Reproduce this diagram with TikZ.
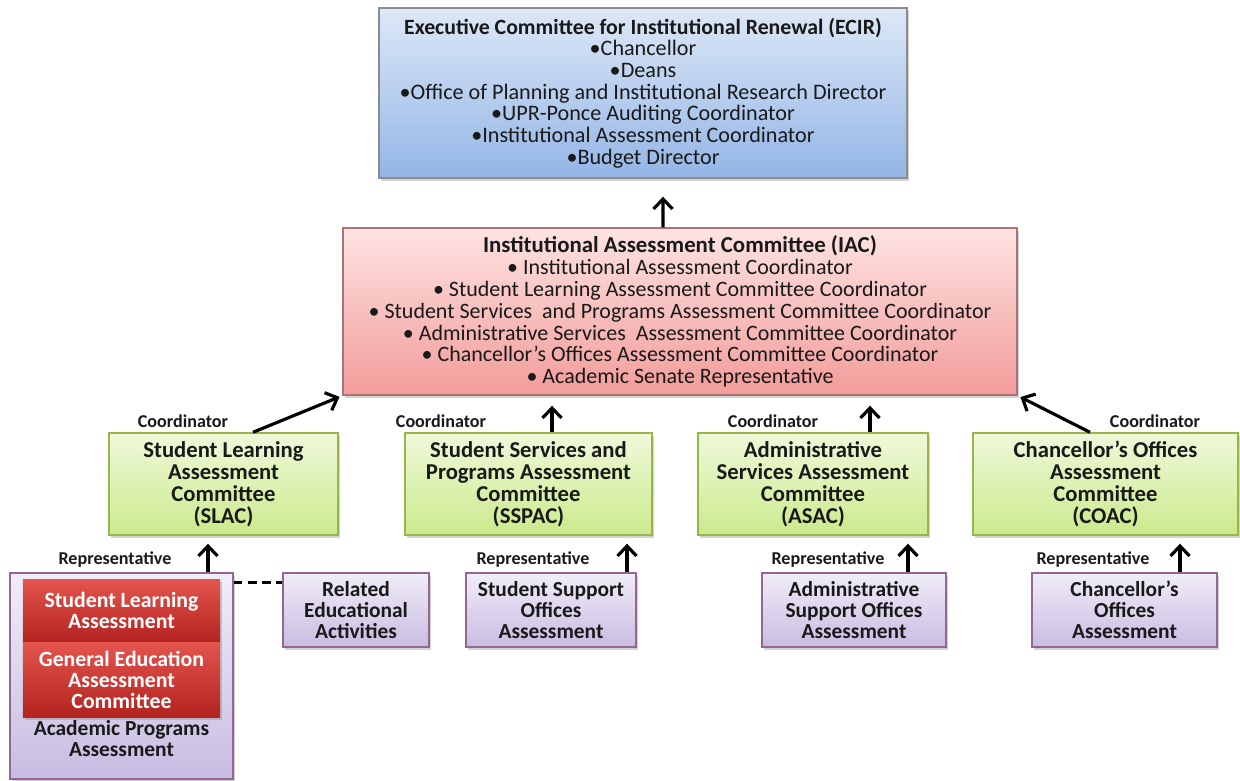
\documentclass[tikz,border=0pt]{standalone}
\usepackage{fontspec}
\setmainfont{Carlito}
\usetikzlibrary{arrows.meta,shadows}
\definecolor{ecirtop}{HTML}{DDE8F7}
\definecolor{ecirbot}{HTML}{93B5E6}
\definecolor{iactop}{HTML}{FDE3E2}
\definecolor{iacbot}{HTML}{F29C9A}
\definecolor{grntop}{HTML}{EFF9DA}
\definecolor{grnbot}{HTML}{CBEA8C}
\definecolor{purtop}{HTML}{F1EDF8}
\definecolor{purbot}{HTML}{C8BCE2}
\definecolor{redtop}{HTML}{E5554F}
\definecolor{redbot}{HTML}{B3231F}
\newcommand{\ecirhead}{\fontsize{12.4}{12.3}\selectfont\bfseries}
\newcommand{\iachead}{\fontsize{13}{12.4}\selectfont\bfseries}
\tikzstyle{box} = [rectangle, align=center, inner sep=1pt, text=black!90, drop shadow={shadow xshift=1.2pt, shadow yshift=-1.5pt, opacity=0.35}]
\tikzstyle{topbox} = [box, draw=black!45, line width=0.8pt, shading=axis, top color=ecirtop, bottom color=ecirbot, minimum width=10.56cm, minimum height=3.4cm, font=\fontsize{12.6}{12.3}\selectfont]
\tikzstyle{iacbox} = [box, draw=red!40!black!55, line width=0.8pt, shading=axis, top color=iactop, bottom color=iacbot, minimum width=13.48cm, minimum height=3.34cm, font=\fontsize{12.5}{12.4}\selectfont]
\tikzstyle{comm} = [box, draw=olive!60!green!70, line width=0.8pt, shading=axis, top color=grntop, bottom color=grnbot, minimum height=2.04cm, font=\fontsize{12.9}{12.5}\selectfont\bfseries]
\tikzstyle{unit} = [box, draw=violet!60!black!60, line width=0.8pt, shading=axis, top color=purtop, bottom color=purbot, minimum height=1.48cm, font=\fontsize{12.2}{12}\selectfont\bfseries]
\tikzstyle{redbox} = [box, shading=axis, top color=redtop, bottom color=redbot, minimum width=3.94cm, text=white, font=\fontsize{12.4}{12}\selectfont\bfseries]
\tikzstyle{tag} = [font=\fontsize{10.3}{11}\selectfont\bfseries, text=black!90]
\tikzstyle{up} = [-{Straight Barb[length=2mm,width=3.8mm]}, line width=1.8pt]

\begin{document}
\begin{tikzpicture}
        \useasboundingbox (0,0) rectangle (24.8,-15.62);
        \node (ecir) [topbox] at (12.86,-1.86) {{\ecirhead Executive Committee for Institutional Renewal (ECIR)}\\ •Chancellor\\ •Deans\\ •Office of Planning and Institutional Research Director\\ •UPR-Ponce Auditing Coordinator\\ •Institutional Assessment Coordinator\\ •Budget Director};
        \node (iac) [iacbox] at (13.6,-6.23) {{\iachead Institutional Assessment Committee (IAC)}\\ • Institutional Assessment Coordinator\\ • Student Learning Assessment Committee Coordinator\\ • Student Services\ \ and Programs Assessment Committee Coordinator\\ • Administrative Services\ \ Assessment Committee Coordinator\\ • Chancellor’s Offices Assessment Committee Coordinator\\ • Academic Senate Representative};
        \node (slac) [comm, minimum width=4.58cm] at (4.47,-9.68) {Student Learning\\ Assessment\\ Committee\\ (SLAC)};
        \node (sspac) [comm, minimum width=4.94cm] at (10.57,-9.68) {Student Services and\\ Programs Assessment\\ Committee\\ (SSPAC)};
        \node (asac) [comm, minimum width=4.6cm] at (16.26,-9.68) {Administrative\\ Services Assessment\\ Committee\\ (ASAC)};
        \node (coac) [comm, minimum width=5.3cm] at (22.11,-9.68) {Chancellor’s Offices\\ Assessment\\ Committee\\ (COAC)};
        \node (apa) [unit, minimum width=4.46cm, minimum height=4.12cm] at (2.43,-13.52) {};
        \node (sla) [redbox, minimum height=1.26cm] at (2.43,-12.21) {Student Learning\\ Assessment};
        \node (geac) [redbox, minimum height=1.5cm] at (2.43,-13.59) {General Education\\ Assessment\\ Committee};
        \node (apa-t) [font=\fontsize{12.2}{12}\selectfont\bfseries, align=center, text=black!90] at (2.43,-14.77) {Academic Programs\\ Assessment};
        \node (rea) [unit, minimum width=2.92cm] at (7.12,-12.2) {Related\\ Educational\\ Activities};
        \node (ssoa) [unit, minimum width=3.4cm] at (11.02,-12.2) {Student Support\\ Offices\\ Assessment};
        \node (asoa) [unit, minimum width=3.68cm] at (17.08,-12.2) {Administrative\\ Support Offices\\ Assessment};
        \node (coa) [unit, minimum width=3.7cm] at (22.49,-12.2) {Chancellor’s\\ Offices\\ Assessment};
        \node (c1) [tag] at (3.66,-8.42) {Coordinator};
        \node (c2) [tag] at (8.82,-8.42) {Coordinator};
        \node (c3) [tag] at (15.46,-8.42) {Coordinator};
        \node (c4) [tag] at (23.1,-8.42) {Coordinator};
        \node (r1) [tag] at (2.3,-11.2) {Representative};
        \node (r2) [tag] at (10.66,-11.2) {Representative};
        \node (r3) [tag] at (16.56,-11.2) {Representative};
        \node (r4) [tag] at (21.86,-11.2) {Representative};
        \draw [up, shorten >=0.36cm] ([xshift=-0.34cm]iac.north) -- ([xshift=0.4cm]ecir.south);
        \draw [up, shorten >=0.06cm] ([xshift=0.59cm]slac.north) -- (iac.south west);
        \draw [up, shorten >=0.2cm] ([xshift=0.47cm]sspac.north) -- ([xshift=0.47cm]sspac.north |- iac.south);
        \draw [up, shorten >=0.2cm] ([xshift=1.14cm]asac.north) -- ([xshift=1.14cm]asac.north |- iac.south);
        \draw [up, shorten >=0.06cm] ([xshift=-0.31cm]coac.north) -- (iac.south east);
        \draw [up, shorten >=0.16cm] ([xshift=1.73cm]apa.north) -- ([xshift=1.73cm]apa.north |- slac.south);
        \draw [up, shorten >=0.16cm] ([xshift=1.52cm]ssoa.north) -- ([xshift=1.52cm]ssoa.north |- sspac.south);
        \draw [up, shorten >=0.16cm] ([xshift=1.08cm]asoa.north) -- ([xshift=1.08cm]asoa.north |- asac.south);
        \draw [up, shorten >=0.16cm] ([xshift=1.11cm]coa.north) -- ([xshift=1.11cm]coa.north |- coac.south);
        \coordinate (dash) at ([yshift=-0.2cm]rea.north west);
        \draw [line width=1.6pt, dash pattern=on 5pt off 3pt] (dash -| apa.east) -- (dash);
\end{tikzpicture}
\end{document}
